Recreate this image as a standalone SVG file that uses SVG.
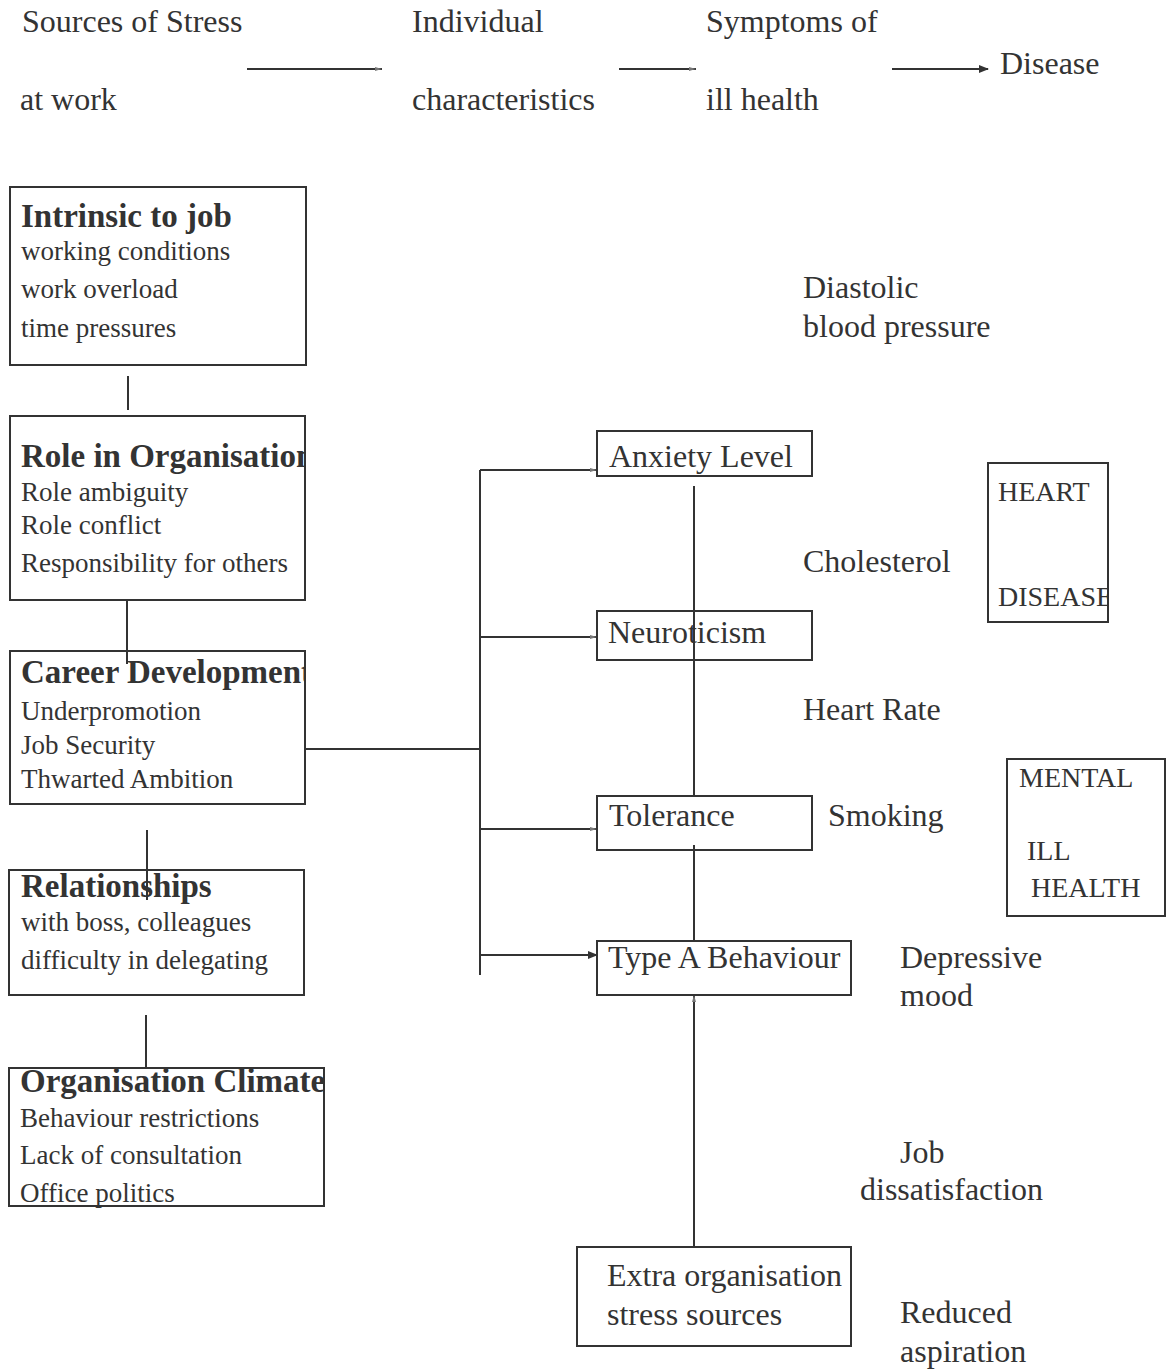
<svg xmlns="http://www.w3.org/2000/svg" width="1166" height="1371" viewBox="0 0 1166 1371">
<defs>
<style>
text{font-family:"Liberation Serif","Times New Roman",serif;fill:#333}
.h{font-size:32px}
.t{font-size:33px;font-weight:bold}
.b{font-size:27px}
.m{font-size:32px}
.s{font-size:28px}
.box{fill:none;stroke:#333;stroke-width:2}
.ln{fill:none;stroke:#333;stroke-width:2}
</style>
<marker id="ah" markerWidth="10" markerHeight="10" refX="9" refY="5" orient="auto" markerUnits="userSpaceOnUse">
<path d="M0,1 L10,5 L0,9 Z" fill="#333"/>
</marker>
<marker id="as" markerWidth="10" markerHeight="10" refX="9" refY="5" orient="auto" markerUnits="userSpaceOnUse">
<path d="M2,3 L9,5 L2,7 Z" fill="#777"/>
</marker>
<clipPath id="c305"><rect x="0" y="0" width="305" height="1371"/></clipPath>
<clipPath id="c323"><rect x="0" y="0" width="323" height="1371"/></clipPath>
<clipPath id="c1108"><rect x="0" y="0" width="1108" height="1371"/></clipPath>
</defs>
<rect width="1166" height="1371" fill="#fff"/>
<g id="header">
<text class="h" x="22" y="32">Sources of Stress</text>
<text class="h" x="20" y="110">at work</text>
<text class="h" x="412" y="32">Individual</text>
<text class="h" x="412" y="110">characteristics</text>
<text class="h" x="706" y="32">Symptoms of</text>
<text class="h" x="706" y="110">ill health</text>
<text class="h" x="1000" y="74">Disease</text>
</g>
<g id="connectors">
<line class="ln" x1="247" y1="69" x2="382" y2="69" marker-end="url(#as)"/>
<line class="ln" x1="619" y1="69" x2="696" y2="69" marker-end="url(#as)"/>
<line class="ln" x1="892" y1="69" x2="988" y2="69" marker-end="url(#ah)"/>
<line class="ln" x1="128" y1="376" x2="128" y2="410"/>
<line class="ln" x1="127" y1="600" x2="127" y2="664"/>
<line class="ln" x1="147" y1="830" x2="147" y2="900"/>
<line class="ln" x1="146" y1="1015" x2="146" y2="1068"/>
<line class="ln" x1="305" y1="749" x2="480" y2="749"/>
<line class="ln" x1="480" y1="470" x2="480" y2="975"/>
<line class="ln" x1="480" y1="470" x2="597" y2="470" marker-end="url(#as)"/>
<line class="ln" x1="480" y1="637" x2="597" y2="637" marker-end="url(#as)"/>
<line class="ln" x1="480" y1="829" x2="597" y2="829" marker-end="url(#as)"/>
<line class="ln" x1="480" y1="955" x2="597" y2="955" marker-end="url(#ah)"/>
<line class="ln" x1="694" y1="486" x2="694" y2="660"/>
<line class="ln" x1="694" y1="660" x2="694" y2="796"/>
<line class="ln" x1="694" y1="845" x2="694" y2="941"/>
<line class="ln" x1="694" y1="1247" x2="694" y2="995" marker-end="url(#as)"/>
</g>
<g id="intrinsic">
<rect class="box" x="10" y="187" width="296" height="178"/>
<text class="t" x="21" y="227">Intrinsic to job</text>
<text class="b" x="21" y="260">working conditions</text>
<text class="b" x="21" y="298">work overload</text>
<text class="b" x="21" y="337">time pressures</text>
</g>
<g id="role">
<rect class="box" x="10" y="416" width="295" height="184"/>
<text class="t" x="21" y="467" clip-path="url(#c305)">Role in Organisation</text>
<text class="b" x="21" y="501">Role ambiguity</text>
<text class="b" x="21" y="534">Role conflict</text>
<text class="b" x="21" y="572">Responsibility for others</text>
</g>
<g id="career">
<rect class="box" x="10" y="651" width="295" height="153"/>
<text class="t" x="21" y="683" clip-path="url(#c305)">Career Development</text>
<text class="b" x="21" y="720">Underpromotion</text>
<text class="b" x="21" y="754">Job Security</text>
<text class="b" x="21" y="788">Thwarted Ambition</text>
</g>
<g id="relationships">
<rect class="box" x="9" y="870" width="295" height="125"/>
<text class="t" x="21" y="897">Relationships</text>
<text class="b" x="21" y="931">with boss, colleagues</text>
<text class="b" x="21" y="969">difficulty in delegating</text>
</g>
<g id="climate">
<rect class="box" x="9" y="1068" width="315" height="138"/>
<text class="t" x="20" y="1092" clip-path="url(#c323)">Organisation Climate</text>
<text class="b" x="20" y="1127">Behaviour restrictions</text>
<text class="b" x="20" y="1164">Lack of consultation</text>
<text class="b" x="20" y="1202">Office politics</text>
</g>
<g id="anxiety">
<rect class="box" x="597" y="431" width="215" height="45"/>
<text class="m" x="609" y="467">Anxiety Level</text>
</g>
<g id="neuroticism">
<rect class="box" x="597" y="611" width="215" height="49"/>
<text class="m" x="608" y="643">Neuroticism</text>
</g>
<g id="tolerance">
<rect class="box" x="597" y="796" width="215" height="54"/>
<text class="m" x="609" y="826">Tolerance</text>
</g>
<g id="typea">
<rect class="box" x="597" y="941" width="254" height="54"/>
<text class="m" x="608" y="968">Type A Behaviour</text>
</g>
<g id="extra">
<rect class="box" x="577" y="1247" width="274" height="99"/>
<text class="m" x="607" y="1286">Extra organisation</text>
<text class="m" x="607" y="1325">stress sources</text>
</g>
<g id="symptoms">
<text class="m" x="803" y="298">Diastolic</text>
<text class="m" x="803" y="337">blood pressure</text>
<text class="m" x="803" y="572">Cholesterol</text>
<text class="m" x="803" y="720">Heart Rate</text>
<text class="m" x="828" y="826">Smoking</text>
<text class="m" x="900" y="968">Depressive</text>
<text class="m" x="900" y="1006">mood</text>
<text class="m" x="900" y="1163">Job</text>
<text class="m" x="860" y="1200">dissatisfaction</text>
<text class="m" x="900" y="1323">Reduced</text>
<text class="m" x="900" y="1362">aspiration</text>
</g>
<g id="heart">
<rect class="box" x="988" y="463" width="120" height="159"/>
<text class="s" x="998" y="501">HEART</text>
<text class="s" x="998" y="606" clip-path="url(#c1108)">DISEASE</text>
</g>
<g id="mental">
<rect class="box" x="1007" y="759" width="158" height="157"/>
<text class="s" x="1019" y="787">MENTAL</text>
<text class="s" x="1027" y="860">ILL</text>
<text class="s" x="1031" y="897">HEALTH</text>
</g>
</svg>
